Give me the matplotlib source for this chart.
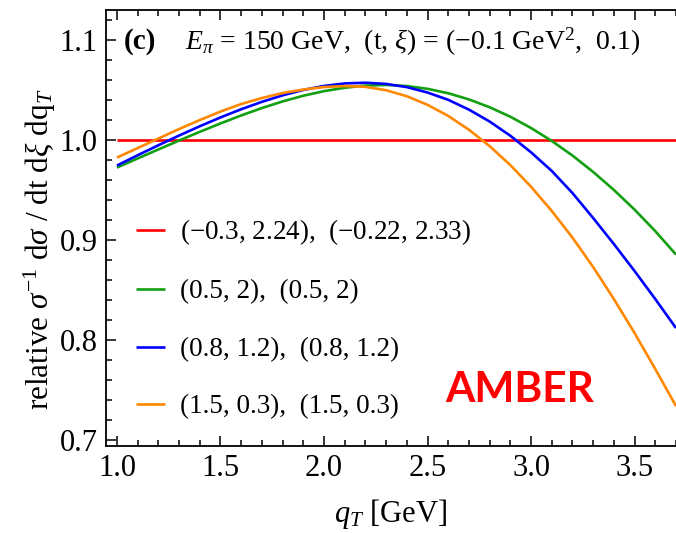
import matplotlib
matplotlib.use("Agg")
import matplotlib.pyplot as plt
from matplotlib.ticker import MultipleLocator

plt.rcParams['font.family'] = ['Liberation Serif', 'DejaVu Serif']
plt.rcParams['mathtext.fontset'] = 'custom'
plt.rcParams['mathtext.rm'] = 'Liberation Serif'
plt.rcParams['mathtext.it'] = 'Liberation Serif:italic'
plt.rcParams['mathtext.bf'] = 'Liberation Serif:bold'

# transverse momentum grid [GeV]
qT = [1.0, 1.1, 1.2, 1.3, 1.4, 1.5, 1.6, 1.7, 1.8, 1.9, 2.0, 2.1, 2.2, 2.3,
      2.4, 2.5, 2.6, 2.7, 2.8, 2.9, 3.0, 3.1, 3.2, 3.3, 3.4, 3.5, 3.6, 3.7]

# relative cross sections for each parameter set
rel_red = [1.0] * len(qT)
rel_green = [0.9720, 0.9811, 0.9901, 0.9990, 1.0077, 1.0161, 1.0241, 1.0315, 1.0381, 1.0438,
             1.0484, 1.0518, 1.0539, 1.0546, 1.0535, 1.0507, 1.0463, 1.0401, 1.0323, 1.0228,
             1.0115, 0.9986, 0.9840, 0.9676, 0.9496, 0.9299, 0.9084, 0.8850]
rel_blue = [0.9740, 0.9843, 0.9943, 1.0040, 1.0133, 1.0221, 1.0303, 1.0377, 1.0442, 1.0496,
            1.0536, 1.0561, 1.0568, 1.0556, 1.0524, 1.0470, 1.0397, 1.0299, 1.0180, 1.0038,
            0.9872, 0.9686, 0.9465, 0.9215, 0.8955, 0.8685, 0.8405, 0.8115]
rel_orange = [0.9820, 0.9915, 1.0010, 1.0105, 1.0195, 1.0280, 1.0355, 1.0415, 1.0465, 1.0500,
              1.0525, 1.0535, 1.0527, 1.0493, 1.0433, 1.0347, 1.0236, 1.0098, 0.9934, 0.9744,
              0.9528, 0.9286, 0.9019, 0.8725, 0.8405, 0.8065, 0.7705, 0.7335]

labels = [r"($-$0.3, 2.24),  ($-$0.22, 2.33)",
          "(0.5, 2),  (0.5, 2)",
          "(0.8, 1.2),  (0.8, 1.2)",
          "(1.5, 0.3),  (1.5, 0.3)"]
colors = ["#ff0000", "#12a012", "#0000ff", "#ff8800"]
series = [rel_red, rel_green, rel_blue, rel_orange]

fig = plt.figure(figsize=(6.76, 5.33), dpi=100)
ax = fig.add_axes([0.1568, 0.164, 0.8432, 0.8172])

handles = []
for ys, c, lab in zip(series, colors, labels):
    h, = ax.plot(qT, ys, color=c, lw=1.9, label=lab, solid_capstyle='butt',
                 solid_joinstyle='round')
    handles.append(h)

ax.set_xlim(0.947, 3.70)
ax.set_ylim(0.694, 1.1295)

ax.xaxis.set_major_locator(MultipleLocator(0.5))
ax.xaxis.set_minor_locator(MultipleLocator(0.1))
ax.yaxis.set_major_locator(MultipleLocator(0.1))
ax.yaxis.set_minor_locator(MultipleLocator(0.02))
ax.xaxis.set_major_formatter(plt.FormatStrFormatter('%.1f'))
ax.yaxis.set_major_formatter(plt.FormatStrFormatter('%.1f'))

ax.tick_params(which='both', direction='in', top=True, right=False,
               width=1.1, labelsize=22, pad=6)
ax.tick_params(which='major', length=7)
ax.tick_params(which='minor', length=4)
ax.spines['right'].set_visible(False)
for s in ('left', 'bottom', 'top'):
    ax.spines[s].set_linewidth(1.3)

ax.set_xlabel(r"$q_T$ [GeV]", fontsize=22, labelpad=10)
ax.set_ylabel(r"relative $\sigma^{-1}$ d$\sigma$ / dt d$\xi$ dq$_T$", fontsize=22.5)
ax.yaxis.set_label_coords(-0.085, 0.45)

ax.text(0.032, 0.927, "(c)", transform=ax.transAxes, fontsize=21, fontweight='bold',
        va='center', ha='left')
ax.text(0.138, 0.927, r"$E_\pi$ = 150 GeV,  (t, $\xi$) = ($-$0.1 GeV$^2$,  0.1)",
        transform=ax.transAxes, fontsize=20, va='center', ha='left')

ax.legend(handles=handles, loc='lower left', bbox_to_anchor=(0.033, 0.035),
          frameon=False, fontsize=19.5, handlelength=1.1, handletextpad=0.55,
          labelspacing=1.2, borderaxespad=0.0)

ax.text(0.726, 0.127, "AMBER", transform=ax.transAxes, color='#ff0000',
        fontsize=30.5, fontweight='bold', family='Lato', ha='center', va='center')

fig.savefig("out.png", dpi=100)
